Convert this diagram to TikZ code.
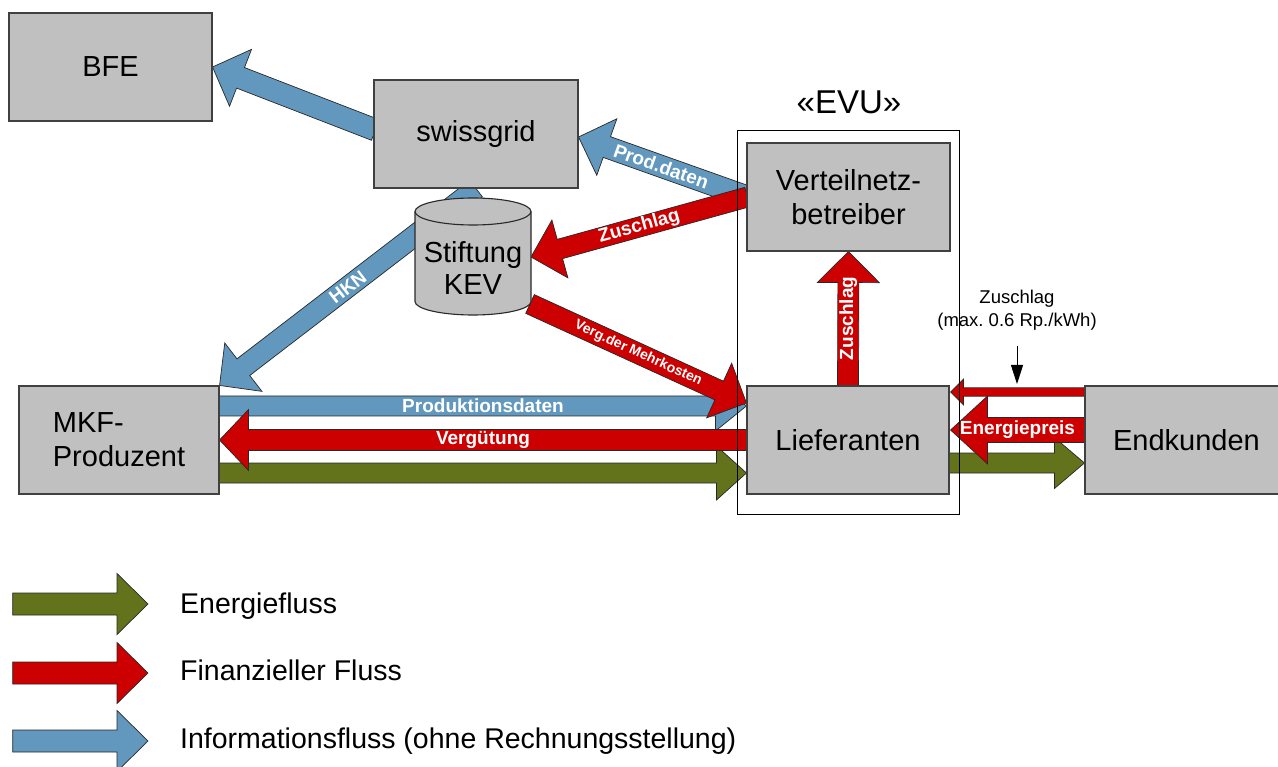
\documentclass[tikz,border=0pt]{standalone}
\usepackage{fontspec}
\setmainfont{Liberation Sans}
\usetikzlibrary{calc,arrows.meta}
\definecolor{boxgray}{RGB}{192,192,192}
\definecolor{infoblue}{RGB}{98,152,189}
\definecolor{finred}{RGB}{204,0,0}
\definecolor{enggreen}{RGB}{99,115,28}
\definecolor{edgegray}{RGB}{64,64,64}
\definecolor{arrowedge}{RGB}{40,40,40}
\frenchspacing

% #1 style, #2 from, #3 tip, #4 half shaft, #5 half head, #6 head length
\newcommand{\blockarrow}[6]{%
  \coordinate (bam) at ($(#3)!#6!(#2)$);
  \draw[#1] ($(#2)!#4!90:(#3)$) -- ($(bam)!#4!90:(#3)$) -- ($(bam)!#5!90:(#3)$) -- (#3)
    -- ($(bam)!#5!-90:(#3)$) -- ($(bam)!#4!-90:(#3)$) -- ($(#2)!#4!-90:(#3)$) -- cycle;
}

\begin{document}
\begin{tikzpicture}[x=1pt,y=-1pt,
  box/.style={draw=edgegray, line width=1.1pt, fill=boxgray, minimum height=108pt, inner sep=0pt, font=\fontsize{29}{34}\selectfont},
  arr/.style={draw=arrowedge, line width=0.7pt, line join=miter},
  info/.style={arr, fill=infoblue},
  fin/.style={arr, fill=finred},
  energy/.style={arr, fill=enggreen},
  lbl/.style={text=white, font=\bfseries\fontsize{19}{21}\selectfont, inner sep=0pt},
  lblsmall/.style={text=white, font=\bfseries\fontsize{14}{16}\selectfont, inner sep=0pt},
  legendtext/.style={anchor=base west, inner sep=0pt, font=\fontsize{28.5}{32}\selectfont}
]
\fill[white] (0,0) rectangle (1278,767);
\useasboundingbox (0,0) rectangle (1278,767);

% node positions (used as anchors for connectors)
\path (110.5,67) node[box, minimum width=203pt, draw=none, fill=none] (bfe) {}
      (476,134) node[box, minimum width=204pt, draw=none, fill=none] (sg) {}
      (848.5,197) node[box, minimum width=203pt, draw=none, fill=none] (vnb) {}
      (119,440) node[box, minimum width=200pt, draw=none, fill=none] (mkf) {}
      (848,440) node[box, minimum width=202pt, draw=none, fill=none] (lief) {}
      (1186.5,440) node[box, minimum width=203pt, draw=none, fill=none] (end) {};
\coordinate (kev) at (473,268);

% connector coordinates
\coordinate (a1s) at ($(sg.west)+(2,-4)$);
\coordinate (a2s) at ($(vnb.west)+(1,0)$);
\coordinate (a2e) at ($(sg.east)+(0,3)$);
\coordinate (a3e) at ($(kev)+(58,-11)$);
\coordinate (a5s) at ($(kev)+(57,36)$);
\coordinate (a5e) at ($(lief.west)+(0,-37)$);
\coordinate (a6s) at ($(mkf.east)+(0,-34)$);
\coordinate (a6e) at ($(lief.west)+(0,-34)$);
\coordinate (a8s) at ($(mkf.east)+(0,33)$);
\coordinate (a8e) at ($(lief.west)+(0,33)$);
\coordinate (a9s) at ($(end.west)+(0,-48)$);
\coordinate (a9e) at ($(lief.east)+(1,-48)$);
\coordinate (a10s) at ($(end.west)+(0,-10)$);
\coordinate (a10e) at ($(lief.east)+(1,-10)$);
\coordinate (a11s) at ($(lief.east)+(0,23)$);
\coordinate (a11e) at ($(end.west)+(0,23)$);

% information flows
\blockarrow{info}{a1s}{bfe.east}{11pt}{30.5pt}{30pt}
\blockarrow{info}{sg.south}{mkf.north east}{10.5pt}{30.5pt}{30pt}
\path (sg.south) -- (mkf.north east) node[midway, sloped, lbl] {HKN};
\blockarrow{info}{a2s}{a2e}{11pt}{30pt}{30pt}
\path (a2s) -- (a2e) node[pos=0.51, sloped, lbl] {Prod.daten};
\blockarrow{info}{a6s}{a6e}{10pt}{25pt}{31pt}
\path (a6s) -- (a6e) node[midway, lbl] {Produktionsdaten};

% energy flows
\blockarrow{energy}{a8s}{a8e}{10pt}{27pt}{30pt}
\blockarrow{energy}{a11s}{a11e}{10pt}{25.5pt}{30pt}

% financial flows
\blockarrow{fin}{a2s}{a3e}{10pt}{30pt}{30pt}
\path (a2s) -- (a3e) node[midway, sloped, lbl] {Zuschlag};
\blockarrow{fin}{lief.west}{mkf.east}{10.5pt}{30.5pt}{29pt}
\path (lief.west) -- (mkf.east) node[midway, lbl] {Vergütung};
\blockarrow{fin}{a5s}{a5e}{10.3pt}{30pt}{30pt}
\path (a5s) -- (a5e) node[midway, sloped, lblsmall] {Verg.der Mehrkosten};
\blockarrow{fin}{lief.north}{vnb.south}{10.5pt}{31pt}{31pt}
\path (lief.north) -- (vnb.south) node[midway, rotate=90, lbl] {Zuschlag};
\blockarrow{fin}{a9s}{a9e}{4.2pt}{13pt}{13pt}
\blockarrow{fin}{a10s}{a10e}{12.5pt}{34pt}{37pt}
\path (a10s) -- (a10e) node[midway, lbl] {Energiepreis};

% boxes
\node[box, minimum width=203pt] at (bfe) {BFE};
\node[box, minimum width=204pt] at (sg) {swissgrid};
\node[box, minimum width=203pt, align=center] at (vnb) {Verteilnetz-\\betreiber};
\node[box, minimum width=200pt, align=left] at (mkf) {MKF-\\Produzent};
\node[box, minimum width=202pt] at (lief) {Lieferanten};
\node[box, minimum width=203pt] at (end) {Endkunden};

% cylinder (Stiftung KEV)
\draw[draw=arrowedge, line width=1.1pt, fill=boxgray]
  (415,211.5) -- (415,301.5) arc[start angle=180, end angle=360, x radius=58pt, y radius=13.5pt]
  -- (531,211.5) arc[start angle=0, end angle=180, x radius=58pt, y radius=13.5pt] -- cycle;
\draw[draw=arrowedge, line width=1.1pt] (415,211.5) arc[start angle=180, end angle=360, x radius=58pt, y radius=13.5pt];
\node[inner sep=0pt, align=center, font=\fontsize{29}{32}\selectfont] (kevtext) at (kev) {Stiftung\\KEV};

% EVU frame
\draw[black, line width=0.9pt] (737,130) rectangle (959,514);
\node[font=\fontsize{33}{36}\selectfont, inner sep=0pt] (evu) at (849,102) {«EVU»};

% Zuschlag note
\node[inner sep=0pt, align=center, font=\fontsize{18.5}{23}\selectfont] (zl) at (1017,310.5) {Zuschlag\\(max. 0.6 Rp./kWh)};
\coordinate (zs) at (1017,346);
\coordinate (zt) at (1017,384);
\draw[black, line width=1pt, -{Triangle[length=19pt,width=12pt]}] (zs) -- (zt);

% legend
\coordinate (l1s) at (12.7,604); \coordinate (l1e) at (148,604);
\coordinate (l2s) at (12.7,673); \coordinate (l2e) at (148,673);
\coordinate (l3s) at (12.7,741); \coordinate (l3e) at (148,741);
\blockarrow{energy}{l1s}{l1e}{11pt}{30.5pt}{31pt}
\blockarrow{fin}{l2s}{l2e}{11pt}{30.5pt}{31pt}
\blockarrow{info}{l3s}{l3e}{11pt}{30.5pt}{31pt}
\node[legendtext] (lt1) at (180,613.3) {Energiefluss};
\node[legendtext] (lt2) at (180,680.7) {Finanzieller Fluss};
\node[legendtext] (lt3) at (180,748.3) {Informationsfluss (ohne Rechnungsstellung)};
\end{tikzpicture}
\end{document}
